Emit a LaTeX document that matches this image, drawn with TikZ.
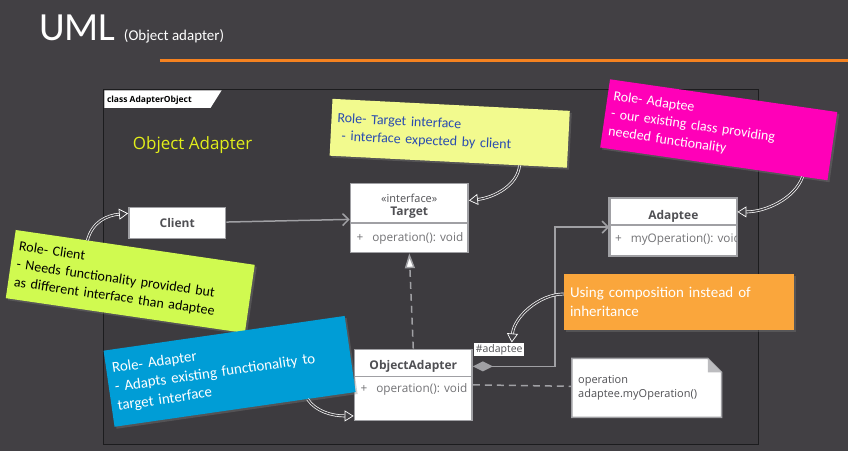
\documentclass[tikz,border=0pt]{standalone}
\usepackage{fontspec}
\setmainfont{Open Sans}
\newfontfamily\titlefont{Carlito}
\newfontfamily\handfont{Carlito}
\usetikzlibrary{arrows.meta,shadows,calc,positioning}

\definecolor{slide}{RGB}{66,64,68}
\definecolor{frameedge}{RGB}{28,28,30}
\definecolor{umlgray}{RGB}{160,160,164}
\definecolor{umltext}{RGB}{80,80,84}
\definecolor{stripe}{RGB}{245,130,32}
\definecolor{heading}{RGB}{226,238,26}
\definecolor{noteyellow}{RGB}{242,250,142}
\definecolor{notepink}{RGB}{255,0,184}
\definecolor{notelime}{RGB}{208,250,80}
\definecolor{noteblue}{RGB}{0,157,214}
\definecolor{noteorange}{RGB}{250,166,60}
\definecolor{inkblue}{RGB}{42,76,176}

\begin{document}
\begin{tikzpicture}[x=1pt,y=-1pt,
  umlbox/.style={draw=umlgray, line width=1.5pt, fill=white, inner sep=0pt},
  umlname/.style={text=umltext, font=\bfseries\fontsize{12}{14}\selectfont, inner sep=0pt},
  umlstereo/.style={text=umltext, font=\fontsize{11}{13}\selectfont, inner sep=0pt},
  umlmember/.style={text=umltext!80, font=\fontsize{11.8}{14}\selectfont, inner sep=0pt, anchor=west},
  sticky/.style={inner sep=6pt, align=left, font=\handfont\fontsize{14}{18}\selectfont,
                 drop shadow={opacity=0.35, shadow xshift=2pt, shadow yshift=-2pt}},
  assoc/.style={draw=umlgray, line width=1.5pt, -{Straight Barb[length=6pt,width=12pt]}},
  realize/.style={draw=umlgray, line width=1.5pt, dash pattern=on 7pt off 5pt,
                  -{Triangle[length=15pt,width=10pt,fill=white]}},
  compose/.style={draw=umlgray, line width=1.5pt,
                  {Diamond[length=20pt,width=10pt,fill=umlgray]}-{Straight Barb[length=6pt,width=12pt]}},
  depend/.style={draw=umlgray, line width=1.5pt, dash pattern=on 7pt off 5pt},
  pointer/.style={draw=white, double=slide, double distance=1.4pt, line width=0.7pt,
                  -{Triangle[open,length=9pt,width=11pt,fill=slide]}},
]
% slide
\fill[slide] (0,0) rectangle (849,452);
\node[anchor=base west, text=white, font=\titlefont\fontsize{40}{40}\selectfont, inner sep=0pt] (title) at (39,41) {UML};
\node[anchor=base west, text=white, font=\titlefont\fontsize{15}{15}\selectfont, inner sep=0pt] (subtitle) at (124,41) {(Object adapter)};
\draw[stripe, line width=3pt] (160,61) -- (849,61);

%% frame
\draw[frameedge, line width=1pt, fill=slide!92!black] (104,90) rectangle (760,445);
\fill[white] (104.5,90.5) -- (222,90.5) -- (211,108) -- (104.5,108) -- cycle;
\node[anchor=west, text=black, font=\bfseries\fontsize{8.5}{10}\selectfont, inner sep=0pt] (framelabel) at (107,100) {class AdapterObject};
\node[anchor=base west, text=heading, font=\fontsize{17}{20}\selectfont, inner sep=0pt] (heading) at (133,150) {Object Adapter};

%% Client
\node[umlbox, minimum width=97pt, minimum height=31pt] (client) at (177.5,223.5) {};
\node[umlname] at (client) {Client};

%% Target
\node[umlbox, minimum width=118pt, minimum height=69pt] (target) at (410,218.5) {};
\draw[umlgray, line width=1.5pt] ([yshift=-40pt]target.north west) -- ([yshift=-40pt]target.north east);
\node[umlstereo] at (410,199) {«interface»};
\node[umlname] at (410,213) {Target};
\node[umlmember] at (357,239) {+\hspace{9pt}operation(): void};

%% Adaptee
\node[umlbox, minimum width=127pt, minimum height=57pt] (adaptee) at (674.5,227.5) {};
\draw[umlgray, line width=1.5pt] ([yshift=-27pt]adaptee.north west) -- ([yshift=-27pt]adaptee.north east);
\node[umlname] at (674.5,217) {Adaptee};
\begin{scope}
  \clip (adaptee.north west) rectangle ([xshift=-1pt]adaptee.south east);
  \node[umlmember] at (616,240) {+\hspace{9pt}myOperation(): void};
\end{scope}
\draw[umlgray, line width=1.5pt] (adaptee.north west) rectangle (adaptee.south east);

%% ObjectAdapter
\node[umlbox, minimum width=118pt, minimum height=71pt] (adapter) at (414,385.5) {};
\draw[umlgray, line width=1.5pt] ([yshift=-28pt]adapter.north west) -- ([yshift=-28pt]adapter.north east);
\node[umlname] at (414,367) {ObjectAdapter};
\node[umlmember] at (361,390) {+\hspace{9pt}operation(): void};

%% note on operation
\draw[umlgray, line width=1.5pt, fill=white] (573,359) -- (709,359) -- (723,373) -- (723,418) -- (573,418) -- cycle;
\fill[umlgray!70] (709,359) -- (723,373) -- (709,373) -- cycle;
\node[anchor=north west, align=left, text=umltext, font=\fontsize{11}{14}\selectfont, inner sep=0pt] (opnote) at (579,376) {operation\\adaptee.myOperation()};
\coordinate (notein) at (573,387);

%% connectors
\draw[assoc] (client) -- (target);
\draw[realize] (adapter.north) -- (target.south);
\coordinate (bend) at (556,367);
\draw[compose] (adapter.east |- bend) -- (bend) |- (adaptee.west);
\draw[depend] (adapter.east) -- (notein);
\node[fill=white, text=umltext, font=\fontsize{10.5}{12}\selectfont, inner sep=1.5pt, anchor=south west] (role) at (475,357) {\#adaptee};

%% sticky notes
\node[sticky, fill=noteyellow, text=inkblue, rotate=-2.9, text width=226pt, minimum height=57pt] (targetnote) at (450.5,133.5)
  {Role- Target interface\\\hspace*{5pt}- interface expected by client};
\node[sticky, fill=notepink, text=white, rotate=-8.2, text width=218pt, minimum height=69pt] (adapteenote) at (720,130)
  {Role- Adaptee\\- our existing class providing\\needed functionality};
\node[sticky, fill=notelime, text=black, rotate=-8.3, text width=230pt, minimum height=69pt] (clientnote) at (130.5,282)
  {Role- Client\\- Needs functionality provided but\\as different interface than adaptee};
\node[sticky, fill=noteblue, text=white, rotate=8.2, text width=232pt, minimum height=77pt, font=\handfont\fontsize{15}{19}\selectfont] (adapternote) at (230,372)
  {Role- Adapter\\- Adapts existing functionality to\\target interface};
\node[sticky, fill=noteorange, text=white, text width=218pt, minimum width=230pt, minimum height=57pt, font=\handfont\fontsize{15}{19}\selectfont] (compnote) at (680,302.5)
  {Using composition instead of\\inheritance};

%% pointers
\draw[pointer] ($(targetnote.south west)!0.8!(targetnote.south east)$) .. controls +(-2,20) and +(25,-3) .. ($(target.north east)!0.25!(target.south east)$);
\draw[pointer] ($(adapteenote.south west)!0.89!(adapteenote.south east)$) .. controls +(-8,22) and +(28,0) .. ($(adaptee.north east)!0.24!(adaptee.south east)$);
\draw[pointer] ($(clientnote.north west)!0.3!(clientnote.north east)$) .. controls +(5,-18) and +(-22,2) .. ($(client.north west)!0.2!(client.south west)$);
\draw[pointer] ($(adapternote.south west)!0.8!(adapternote.south east)$) .. controls +(8,12) and +(-22,0) .. ($(adapter.north west)!0.93!(adapter.south west)$);
\draw[pointer] ([yshift=8pt]compnote.west) .. controls +(-25,0) and +(2,-25) .. ($(role.north)!0.5!(role.north east)$);
\end{tikzpicture}
\end{document}
